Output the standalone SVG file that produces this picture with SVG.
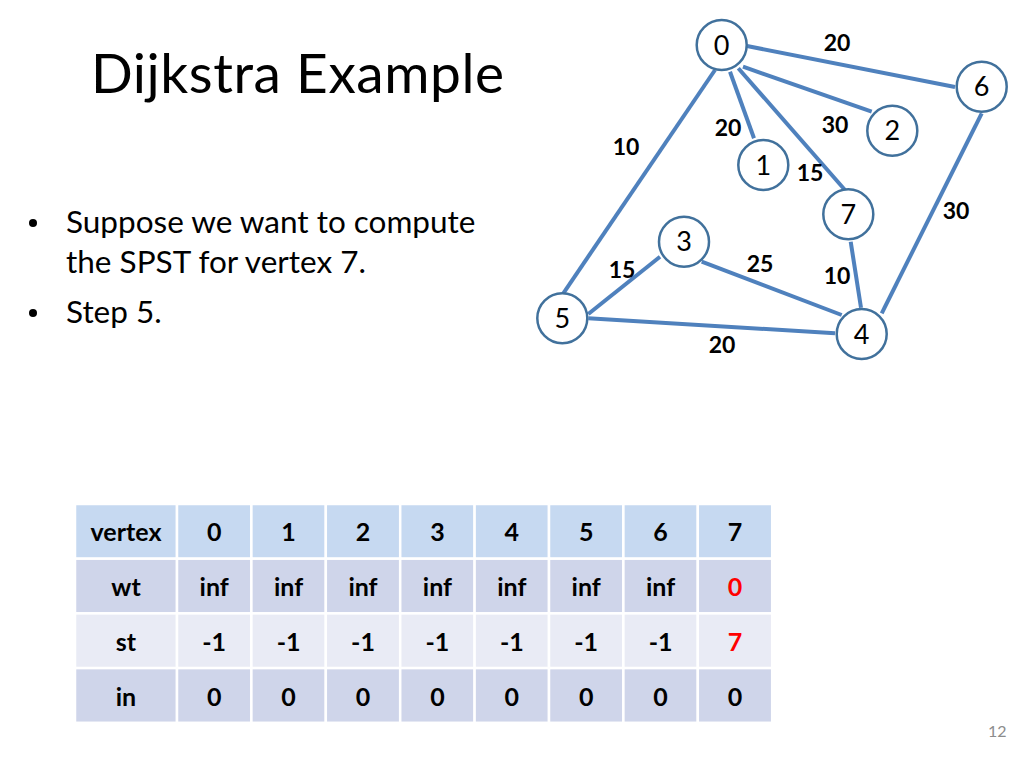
<svg xmlns="http://www.w3.org/2000/svg" width="1024" height="768" viewBox="0 0 1024 768">
<style>
.title{font-family:Lato,"Liberation Sans",sans-serif;font-size:55px;fill:#000}
.bul{font-family:Lato,"Liberation Sans",sans-serif;font-size:31.5px;fill:#000}
.edge{stroke:#4F81BD;stroke-width:4;stroke-linecap:butt;fill:none}
.node circle{fill:#fff;stroke:#41719C;stroke-width:2.5}
.nl{font-family:Lato,"Liberation Sans",sans-serif;font-size:27px;fill:#000;text-anchor:middle}
.el{font-family:Lato,"Liberation Sans",sans-serif;font-size:23px;font-weight:bold;fill:#000;text-anchor:middle}
.cell{stroke:#fff;stroke-width:2.5}
.hd{fill:#C6D9F1}
.r1{fill:#CFD5EA}
.r2{fill:#E9EBF5}
.tt{font-family:Lato,"Liberation Sans",sans-serif;font-size:25px;font-weight:bold;fill:#000;text-anchor:middle}
.red{fill:#FF0000}
.pg{font-family:Lato,"Liberation Sans",sans-serif;font-size:16px;fill:#8C8C8C}
</style>
<rect width="1024" height="768" fill="#fff"/>
<text class="title" x="91" y="93" textLength="413">Dijkstra Example</text>
<g id="bullets">
<circle cx="33" cy="223" r="4" fill="#000"/>
<text class="bul" x="66" y="233">Suppose we want to compute</text>
<text class="bul" x="66" y="273">the SPST for vertex 7.</text>
<circle cx="33" cy="313" r="4" fill="#000"/>
<text class="bul" x="66" y="323">Step 5.</text>
</g>
<g id="connectors">
<line class="edge" x1="747" y1="46" x2="955" y2="87"/>
<line class="edge" x1="743" y1="66.7" x2="871.7" y2="111.7"/>
<line class="edge" x1="730" y1="71.7" x2="754" y2="138.3"/>
<line class="edge" x1="738.3" y1="68.3" x2="845" y2="190"/>
<line class="edge" x1="715" y1="70" x2="563.3" y2="293.3"/>
<line class="edge" x1="981.7" y1="113.3" x2="881.7" y2="313.3"/>
<line class="edge" x1="850.7" y1="241.7" x2="861" y2="307.7"/>
<line class="edge" x1="701.7" y1="261.7" x2="841.7" y2="315"/>
<line class="edge" x1="660" y1="256.7" x2="588.3" y2="314"/>
<line class="edge" x1="588.3" y1="318.3" x2="835" y2="333.3"/>
</g>
<g id="edge-labels">
<text class="el" x="837" y="50.5">20</text>
<text class="el" x="626" y="155">10</text>
<text class="el" x="728" y="136">20</text>
<text class="el" x="835" y="133">30</text>
<text class="el" x="810" y="181">15</text>
<text class="el" x="956" y="219">30</text>
<text class="el" x="622" y="278">15</text>
<text class="el" x="760" y="272">25</text>
<text class="el" x="837" y="284">10</text>
<text class="el" x="722" y="353">20</text>
</g>
<g id="node0" class="node"><circle cx="721.7" cy="45" r="25"/><text class="nl" x="721.7" y="54.5">0</text></g>
<g id="node1" class="node"><circle cx="763.3" cy="165" r="25"/><text class="nl" x="763.3" y="174.5">1</text></g>
<g id="node2" class="node"><circle cx="892.3" cy="130.7" r="25"/><text class="nl" x="892.3" y="140.2">2</text></g>
<g id="node3" class="node"><circle cx="684" cy="241.7" r="25"/><text class="nl" x="684" y="251.2">3</text></g>
<g id="node4" class="node"><circle cx="861.7" cy="334" r="25"/><text class="nl" x="861.7" y="343.5">4</text></g>
<g id="node5" class="node"><circle cx="562.3" cy="318.3" r="25"/><text class="nl" x="562.3" y="327.8">5</text></g>
<g id="node6" class="node"><circle cx="981.7" cy="86.7" r="25"/><text class="nl" x="981.7" y="96.2">6</text></g>
<g id="node7" class="node"><circle cx="848.3" cy="214.3" r="25"/><text class="nl" x="848.3" y="223.8">7</text></g>
<g id="table">
<rect class="cell hd" x="75" y="504" width="102" height="54.7"/>
<rect class="cell hd" x="177" y="504" width="74.4" height="54.7"/>
<rect class="cell hd" x="251.4" y="504" width="74.4" height="54.7"/>
<rect class="cell hd" x="325.8" y="504" width="74.4" height="54.7"/>
<rect class="cell hd" x="400.2" y="504" width="74.4" height="54.7"/>
<rect class="cell hd" x="474.6" y="504" width="74.4" height="54.7"/>
<rect class="cell hd" x="549" y="504" width="74.4" height="54.7"/>
<rect class="cell hd" x="623.4" y="504" width="74.4" height="54.7"/>
<rect class="cell hd" x="697.8" y="504" width="74.4" height="54.7"/>
<rect class="cell r1" x="75" y="558.7" width="102" height="54.7"/>
<rect class="cell r1" x="177" y="558.7" width="74.4" height="54.7"/>
<rect class="cell r1" x="251.4" y="558.7" width="74.4" height="54.7"/>
<rect class="cell r1" x="325.8" y="558.7" width="74.4" height="54.7"/>
<rect class="cell r1" x="400.2" y="558.7" width="74.4" height="54.7"/>
<rect class="cell r1" x="474.6" y="558.7" width="74.4" height="54.7"/>
<rect class="cell r1" x="549" y="558.7" width="74.4" height="54.7"/>
<rect class="cell r1" x="623.4" y="558.7" width="74.4" height="54.7"/>
<rect class="cell r1" x="697.8" y="558.7" width="74.4" height="54.7"/>
<rect class="cell r2" x="75" y="613.4" width="102" height="54.7"/>
<rect class="cell r2" x="177" y="613.4" width="74.4" height="54.7"/>
<rect class="cell r2" x="251.4" y="613.4" width="74.4" height="54.7"/>
<rect class="cell r2" x="325.8" y="613.4" width="74.4" height="54.7"/>
<rect class="cell r2" x="400.2" y="613.4" width="74.4" height="54.7"/>
<rect class="cell r2" x="474.6" y="613.4" width="74.4" height="54.7"/>
<rect class="cell r2" x="549" y="613.4" width="74.4" height="54.7"/>
<rect class="cell r2" x="623.4" y="613.4" width="74.4" height="54.7"/>
<rect class="cell r2" x="697.8" y="613.4" width="74.4" height="54.7"/>
<rect class="cell r1" x="75" y="668.1" width="102" height="54.7"/>
<rect class="cell r1" x="177" y="668.1" width="74.4" height="54.7"/>
<rect class="cell r1" x="251.4" y="668.1" width="74.4" height="54.7"/>
<rect class="cell r1" x="325.8" y="668.1" width="74.4" height="54.7"/>
<rect class="cell r1" x="400.2" y="668.1" width="74.4" height="54.7"/>
<rect class="cell r1" x="474.6" y="668.1" width="74.4" height="54.7"/>
<rect class="cell r1" x="549" y="668.1" width="74.4" height="54.7"/>
<rect class="cell r1" x="623.4" y="668.1" width="74.4" height="54.7"/>
<rect class="cell r1" x="697.8" y="668.1" width="74.4" height="54.7"/>
<text class="tt" x="126" y="540.5">vertex</text>
<text class="tt" x="214.2" y="540.5">0</text>
<text class="tt" x="288.6" y="540.5">1</text>
<text class="tt" x="363" y="540.5">2</text>
<text class="tt" x="437.4" y="540.5">3</text>
<text class="tt" x="511.8" y="540.5">4</text>
<text class="tt" x="586.2" y="540.5">5</text>
<text class="tt" x="660.6" y="540.5">6</text>
<text class="tt" x="735" y="540.5">7</text>
<text class="tt" x="126" y="595.5">wt</text>
<text class="tt" x="214.2" y="595.5">inf</text>
<text class="tt" x="288.6" y="595.5">inf</text>
<text class="tt" x="363" y="595.5">inf</text>
<text class="tt" x="437.4" y="595.5">inf</text>
<text class="tt" x="511.8" y="595.5">inf</text>
<text class="tt" x="586.2" y="595.5">inf</text>
<text class="tt" x="660.6" y="595.5">inf</text>
<text class="tt red" x="735" y="595.5">0</text>
<text class="tt" x="126" y="650.5">st</text>
<text class="tt" x="214.2" y="650.5">-1</text>
<text class="tt" x="288.6" y="650.5">-1</text>
<text class="tt" x="363" y="650.5">-1</text>
<text class="tt" x="437.4" y="650.5">-1</text>
<text class="tt" x="511.8" y="650.5">-1</text>
<text class="tt" x="586.2" y="650.5">-1</text>
<text class="tt" x="660.6" y="650.5">-1</text>
<text class="tt red" x="735" y="650.5">7</text>
<text class="tt" x="126" y="705.5">in</text>
<text class="tt" x="214.2" y="705.5">0</text>
<text class="tt" x="288.6" y="705.5">0</text>
<text class="tt" x="363" y="705.5">0</text>
<text class="tt" x="437.4" y="705.5">0</text>
<text class="tt" x="511.8" y="705.5">0</text>
<text class="tt" x="586.2" y="705.5">0</text>
<text class="tt" x="660.6" y="705.5">0</text>
<text class="tt" x="735" y="705.5">0</text>
</g>
<text class="pg" x="988" y="737">12</text>
</svg>
